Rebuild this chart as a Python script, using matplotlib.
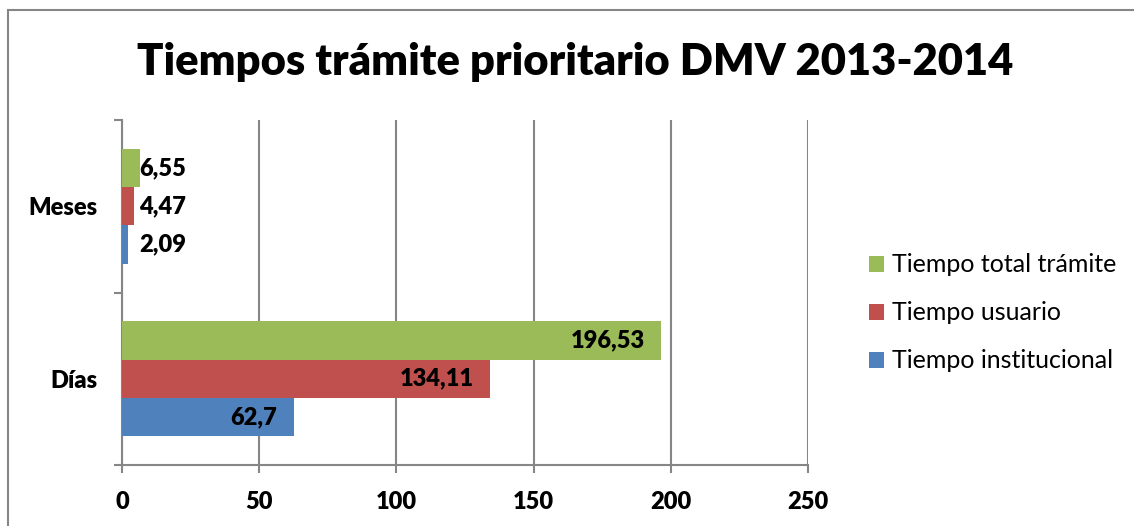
import numpy as np
import matplotlib
matplotlib.use("Agg")
from matplotlib import pyplot as plt
from matplotlib.patches import Rectangle

categories = ["Días", "Meses"]
series_names = ["Tiempo institucional", "Tiempo usuario", "Tiempo total trámite"]
institucional = [62.7, 2.09]
usuario = [134.11, 4.47]
total = [196.53, 6.55]
x_ticks = [0, 50, 100, 150, 200, 250]

colors = ["#4F81BD", "#C0504D", "#9BBB59"]
plt.rcParams['font.family'] = ['Lato', 'DejaVu Sans']
W = "heavy"


def fmt(v):
    return ("%g" % v).replace(".", ",")


def main():
    fig = plt.figure(figsize=(11.34, 5.26), dpi=100)
    fig.patches.append(Rectangle((8 / 1134, -0.1), 1.2, 1.1 - 10 / 526,
                                 transform=fig.transFigure, fill=False,
                                 edgecolor="#868686", linewidth=1.5))
    ax = fig.add_axes([122 / 1134, 1 - 465 / 526, 686 / 1134, 345 / 526])

    y = np.arange(len(categories))
    h = 2 / 9
    all_series = [institucional, usuario, total]
    bars = []
    for i, vals in enumerate(all_series):
        b = ax.barh(y + (i - 1) * h, vals, height=h, color=colors[i],
                    label=series_names[i], zorder=3)
        bars.append(b)

    # etiquetas de datos
    for i, vals in enumerate(all_series):
        for j, v in enumerate(vals):
            yy = y[j] + (i - 1) * h
            if v > 20:
                ax.annotate(fmt(v), (v, yy), xytext=(-12, 0), textcoords="offset points",
                            ha="right", va="center", fontsize=17, fontweight=W, zorder=4)
            else:
                ax.text(6.3, yy, fmt(v), ha="left", va="center", fontsize=17,
                        fontweight=W, zorder=4)

    ax.set_xlim(0, 250)
    ax.set_ylim(-0.5, 1.5)
    ax.set_xticks(x_ticks)
    ax.set_xticklabels([str(t) for t in x_ticks], fontsize=17, fontweight=W)
    ax.set_yticks(y)
    ax.set_yticklabels(categories, fontsize=17, fontweight=W)
    ax.set_yticks([-0.5, 0.5, 1.5], minor=True)
    ax.tick_params(axis="y", which="major", length=0, pad=18)
    ax.tick_params(axis="y", which="minor", length=6, width=1.5, color="#868686", direction="out")
    ax.tick_params(axis="x", length=6, width=1.5, color="#868686", direction="out", pad=13)
    ax.grid(axis="x", color="#868686", linewidth=1.5, zorder=0)
    for s in ["top", "right"]:
        ax.spines[s].set_visible(False)
    for s in ["left", "bottom"]:
        ax.spines[s].set_color("#868686")
        ax.spines[s].set_linewidth(1.5)

    handles = bars[::-1]
    fig.legend(handles, [series_names[2], series_names[1], series_names[0]],
               loc="center left", bbox_to_anchor=(869 / 1134, 1 - 313 / 526),
               frameon=False, fontsize=18, handlelength=0.6, handleheight=0.6,
               handletextpad=0.3, labelspacing=1.0, borderpad=0, borderaxespad=0)

    fig.text(575 / 1134, 1 - 62 / 526, "Tiempos trámite prioritario DMV 2013-2014",
             ha="center", va="center", fontsize=31.3, fontweight=W)

    fig.savefig("out.png", dpi=100)


if __name__ == '__main__':
    main()
